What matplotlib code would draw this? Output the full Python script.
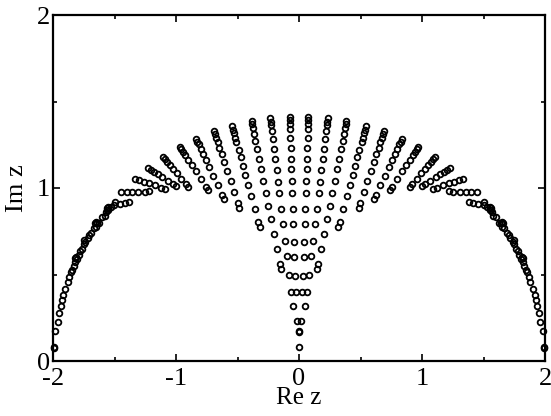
import matplotlib
matplotlib.use("Agg")
import matplotlib.pyplot as plt

plt.rcParams['font.family'] = 'serif'
plt.rcParams['font.serif'] = ['Liberation Serif', 'DejaVu Serif']
plt.rcParams['axes.unicode_minus'] = False

# left half of the fan; the right half is its mirror
# each ray: top end, bottom end, and where its points sit along it (0=bottom, 1=top)
ray_top_x = [-0.077, -0.232, -0.386, -0.545, -0.691, -0.837, -0.967, -1.106, -1.228, -1.333, -1.447, -1.553]
ray_top_y = [1.413, 1.405, 1.388, 1.361, 1.327, 1.284, 1.238, 1.178, 1.116, 1.054, 0.976, 0.891]
ray_bot_x = [-0.020, -0.050, -0.147, -0.321, -0.484, -0.606, -0.741, -0.900, -1.000, -1.090, -1.220, -1.380]
ray_bot_y = [0.230, 0.320, 0.530, 0.776, 0.884, 0.935, 0.988, 1.005, 1.010, 0.995, 0.980, 0.920]
ray_frac = [
    [0, .144, .22, .313, .389, .473, .549, .625, .685, .744, .795, .845, .896, .938, .964, .981, 1],
    [0, .072, .163, .263, .344, .435, .516, .598, .661, .725, .779, .833, .888, .933, .96, .978, 1],
    [0, .034, .135, .236, .337, .427, .517, .596, .674, .742, .809, .865, .91, .949, .978, 1],
    [0, .05, .18, .30, .41, .51, .60, .69, .76, .84, .88, .93, .96, 1],
    [0, .06, .21, .35, .48, .60, .70, .79, .86, .92, .96, 1],
    [0, .07, .23, .39, .53, .65, .75, .84, .91, .955, 1],
    [0, .08, .26, .43, .58, .70, .81, .89, .95, 1],
    [0, .09, .28, .46, .61, .74, .85, .93, 1],
    [0, .10, .30, .49, .65, .79, .90, 1],
    [0, .12, .33, .53, .70, .86, 1],
    [0, .15, .38, .60, .80, 1],
    [0, .20, .45, .72, 1],
]

# points on the outer arc (left side)
arc_x = [-1.500, -1.527, -1.554, -1.557, -1.565, -1.570, -1.581, -1.600, -1.622, -1.640,
         -1.649, -1.656, -1.654, -1.670, -1.690, -1.705, -1.717, -1.736, -1.744, -1.750,
         -1.763, -1.780, -1.790, -1.806, -1.811, -1.818, -1.820, -1.833, -1.844, -1.855,
         -1.866, -1.880, -1.900, -1.915, -1.930, -1.939, -1.953, -1.961, -1.980, -1.988, -1.990]
arc_y = [0.920, 0.892, 0.873, 0.884, 0.875, 0.860, 0.840, 0.835, 0.800, 0.800,
         0.805, 0.795, 0.776, 0.770, 0.738, 0.730, 0.709, 0.690, 0.699, 0.675,
         0.646, 0.635, 0.613, 0.588, 0.603, 0.595, 0.575, 0.549, 0.526, 0.515,
         0.484, 0.458, 0.414, 0.381, 0.350, 0.318, 0.277, 0.227, 0.175, 0.083, 0.075]

# points on the imaginary axis at the tip of the fan
center_y = [0.08, 0.17, 0.175]

xs, ys = [], []
for tx, ty, bx, by, fr in zip(ray_top_x, ray_top_y, ray_bot_x, ray_bot_y, ray_frac):
    for f in fr:
        x = bx + f * (tx - bx)
        y = by + f * (ty - by)
        xs += [x, -x]
        ys += [y, y]
for x, y in zip(arc_x, arc_y):
    xs += [x, -x]
    ys += [y, y]
xs += [0.0] * len(center_y)
ys += center_y

fig = plt.figure(figsize=(5.51, 4.16), dpi=100)
ax = fig.add_axes([53 / 551, 55 / 416, 492 / 551, 346 / 416])
ax.plot(xs, ys, 'o', ms=4.1, mfc='none', mec='k', mew=1.3, ls='none', clip_on=False)

ax.set_xlim(-2, 2)
ax.set_ylim(0, 2)
ax.set_xticks([-2, -1, 0, 1, 2])
ax.set_xticklabels(['-2', '-1', '0', '1', '2'])
ax.set_xticks([-1.5, -0.5, 0.5, 1.5], minor=True)
ax.set_yticks([0, 1, 2])
ax.set_yticklabels(['0', '1', '2'])
ax.set_yticks([0.5, 1.5], minor=True)
ax.tick_params(which='both', direction='in', top=True, right=True, width=1.2, labelsize=19)
ax.tick_params(which='major', length=5)
ax.tick_params(which='minor', length=3)
ax.tick_params(axis='x', which='major', pad=5)
ax.tick_params(axis='y', which='major', pad=2)
for s in ax.spines.values():
    s.set_linewidth(1.6)

ax.set_xlabel('Re z', fontsize=18, labelpad=-2)
ax.set_ylabel('Im z', fontsize=19)
ax.yaxis.set_label_coords(-0.05, 0.5)

fig.savefig('out.png', dpi=100)
